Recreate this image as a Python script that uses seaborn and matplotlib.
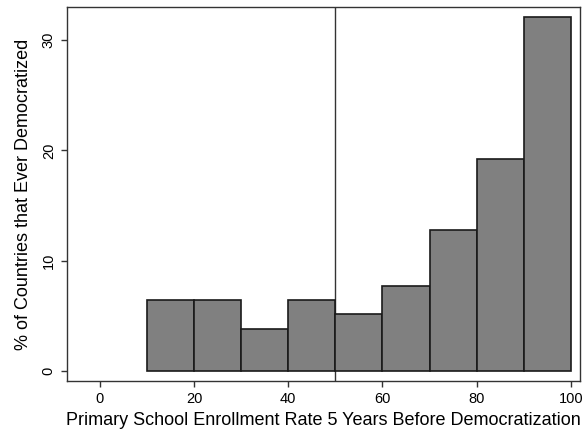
import numpy as np
import matplotlib
matplotlib.use("Agg")
import matplotlib.pyplot as plt
import seaborn as sns

# bin centres of enrollment rate (%), share of countries (%) per bin
bin_centers = [15, 25, 35, 45, 55, 65, 75, 85, 95]
pct = [6.41, 6.41, 3.85, 6.41, 5.13, 7.69, 12.82, 19.23, 32.05]
bin_edges = [10, 20, 30, 40, 50, 60, 70, 80, 90, 100]
x_ticks = [0, 20, 40, 60, 80, 100]
y_ticks = [0, 10, 20, 30]
cutoff = 50

sns.set_style("white")
plt.rcParams["font.family"] = ["Liberation Sans", "DejaVu Sans"]
plt.rcParams["text.color"] = "black"
plt.rcParams["axes.labelcolor"] = "black"

fig = plt.figure(figsize=(5.82, 4.32), dpi=100)
ax = fig.add_axes([0.115, 0.118, 0.882, 0.866])

sns.histplot(x=bin_centers, weights=pct, bins=bin_edges, ax=ax,
             color="#808080", alpha=1, edgecolor="#1a1a1a", linewidth=1.2)
ax.axvline(cutoff, color="#333333", lw=1, zorder=0)

ax.set_xlim(-7, 102)
ax.set_ylim(-0.9, 33.0)
ax.set_xticks(x_ticks)
ax.set_yticks(y_ticks)
ax.tick_params(axis="both", direction="out", length=4.5, width=1, color="#333333",
               labelsize=10.5, labelcolor="black", pad=3.5, bottom=True, left=True)
for lab in ax.get_yticklabels():
    lab.set_rotation(90)
    lab.set_va("center")
ax.set_xlabel("Primary School Enrollment Rate 5 Years Before Democratization", fontsize=13)
ax.set_ylabel("% of Countries that Ever Democratized", fontsize=13)
ax.xaxis.set_label_coords(0.5, -0.083)
ax.yaxis.set_label_coords(-0.068, 0.5)
for s in ax.spines.values():
    s.set_color("#333333")
    s.set_linewidth(1)

fig.savefig("out.png", dpi=100)
